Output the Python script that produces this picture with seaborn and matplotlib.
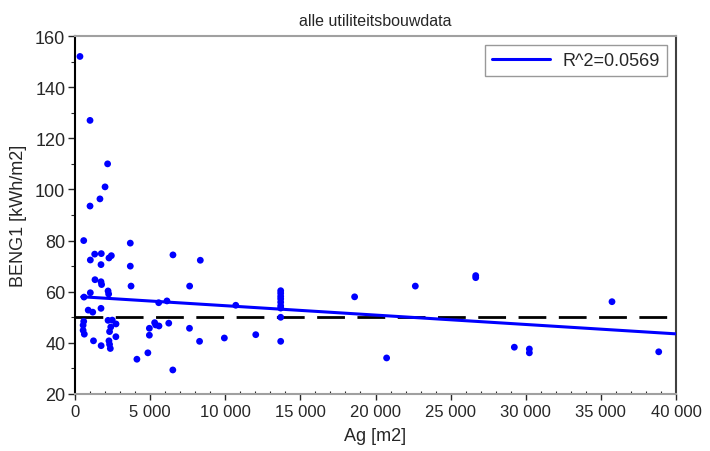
import numpy as np
import pandas as pd
import matplotlib
matplotlib.use("Agg")
import matplotlib.pyplot as plt
import seaborn as sns
from matplotlib.ticker import MultipleLocator, FixedLocator

title = "alle utiliteitsbouwdata"
x_label = "Ag [m2]"
y_label = "BENG1 [kWh/m2]"
legend_label = "R^2=0.0569"
reference_level = 50

# linear fit as shown in the chart
fit_intercept = 58.2
fit_slope = -0.000367

ag = [330, 1000, 2170, 2000, 1660, 1000, 580, 3680, 1310, 1750,
      1020, 2420, 2260, 1730, 3680, 1330, 1730, 1770, 3730, 1020,
      2200, 2240, 600, 6520, 8340, 7630, 5570, 6120, 880, 1180,
      1730, 580, 540, 540, 620, 2200, 2480, 2730, 2380, 2300,
      2720, 1230, 1740, 2260, 2300, 2350, 4120, 4850, 4950, 4950,
      5300, 5370, 5590, 6240, 6510, 7620, 8290, 10700, 9940, 12030,
      13690, 13690, 13690, 13690, 13690, 13690, 13690, 13690, 13690,
      18610, 20740, 22650, 26670, 26670, 29240, 30240, 30240, 35740, 38850]
beng1 = [152, 127, 110, 101, 96.3, 93.5, 80, 79, 74.7, 74.9,
         72.4, 74.1, 73.2, 70.6, 70, 64.7, 63.9, 62.8, 62.2, 59.6,
         60.3, 59.1, 57.9, 74.4, 72.3, 62.2, 55.7, 56.4, 52.8, 52.0,
         53.5, 48.4, 46.9, 44.9, 43.4, 48.8, 48.9, 47.4, 46.2, 44.4,
         42.4, 40.8, 38.9, 40.8, 39.4, 37.8, 33.6, 36.1, 45.7, 43.0,
         47.9, 47.0, 46.6, 47.7, 29.4, 45.7, 40.6, 54.7, 41.9, 43.2,
         60.4, 59.4, 58.2, 57.2, 55.9, 54.5, 53.6, 50.0, 40.6,
         58.0, 34.1, 62.2, 66.3, 65.5, 38.3, 37.6, 36.1, 56.1, 36.5]

x_ticks = [0, 5000, 10000, 15000, 20000, 25000, 30000, 35000, 40000]
x_tick_labels = ["0", "5 000", "10 000", "15 000", "20 000", "25 000",
                 "30 000", "35 000", "40 000"]
y_ticks = [20, 40, 60, 80, 100, 120, 140, 160]

df = pd.DataFrame({"Ag": ag, "BENG1": beng1})

sns.set_style("ticks")
plt.rcParams["font.family"] = ["Liberation Sans", "DejaVu Sans"]

fig = plt.figure(figsize=(7.1, 4.52), dpi=100)
ax = fig.add_axes([75 / 710, 1 - 395 / 452, 601 / 710, 358 / 452])

sns.scatterplot(data=df, x="Ag", y="BENG1", ax=ax, color="#0000ff",
                s=24, edgecolor="none", zorder=3, legend=False)

# regression line
xx = np.linspace(df["Ag"].min() + 120, 40000, 2)
fit_df = pd.DataFrame({"Ag": xx, "fit": fit_intercept + fit_slope * xx})
sns.lineplot(data=fit_df, x="Ag", y="fit", ax=ax, color="#0000ff", lw=2.2,
             label=legend_label, zorder=4)

ax.axhline(reference_level, color="black", lw=2, ls=(0, (10, 4.5)), zorder=2)

ax.set_xlim(0, 40000)
ax.set_ylim(20, 160)
ax.xaxis.set_major_locator(FixedLocator(x_ticks))
ax.set_xticklabels(x_tick_labels)
ax.set_yticks(y_ticks)
ax.xaxis.set_minor_locator(MultipleLocator(1000))
ax.yaxis.set_minor_locator(MultipleLocator(10))
ax.tick_params(axis="y", which="major", direction="out", length=5, width=1,
               labelsize=13, pad=2)
ax.tick_params(axis="y", which="minor", direction="out", length=3, width=0.8)
ax.tick_params(axis="x", which="major", direction="out", length=4, width=1,
               labelsize=12, pad=3)
ax.tick_params(axis="x", which="minor", direction="in", length=2.5, width=0.8)
for lab in ax.get_xticklabels():
    lab.set_family(["Liberation Sans Narrow", "Liberation Sans", "DejaVu Sans"])

for side in ["top", "right", "bottom", "left"]:
    ax.spines[side].set_visible(True)
ax.spines["left"].set_color("black")
ax.spines["right"].set_color("#404040")
ax.spines["top"].set_color("#a0a0a0")
ax.spines["bottom"].set_color("#a0a0a0")
for s in ax.spines.values():
    s.set_linewidth(1.5)

ax.set_xlabel(x_label, fontsize=13, labelpad=6)
ax.set_ylabel(y_label, fontsize=13, labelpad=6)
ax.set_title(title, fontsize=11.5, pad=8)

leg = ax.legend(loc="upper right", fontsize=13, frameon=True, fancybox=False,
                edgecolor="#808080", handlelength=3.2, borderpad=0.4,
                handletextpad=0.7, borderaxespad=0.5)
leg.get_frame().set_linewidth(1.0)

fig.savefig("out.png", dpi=100)
